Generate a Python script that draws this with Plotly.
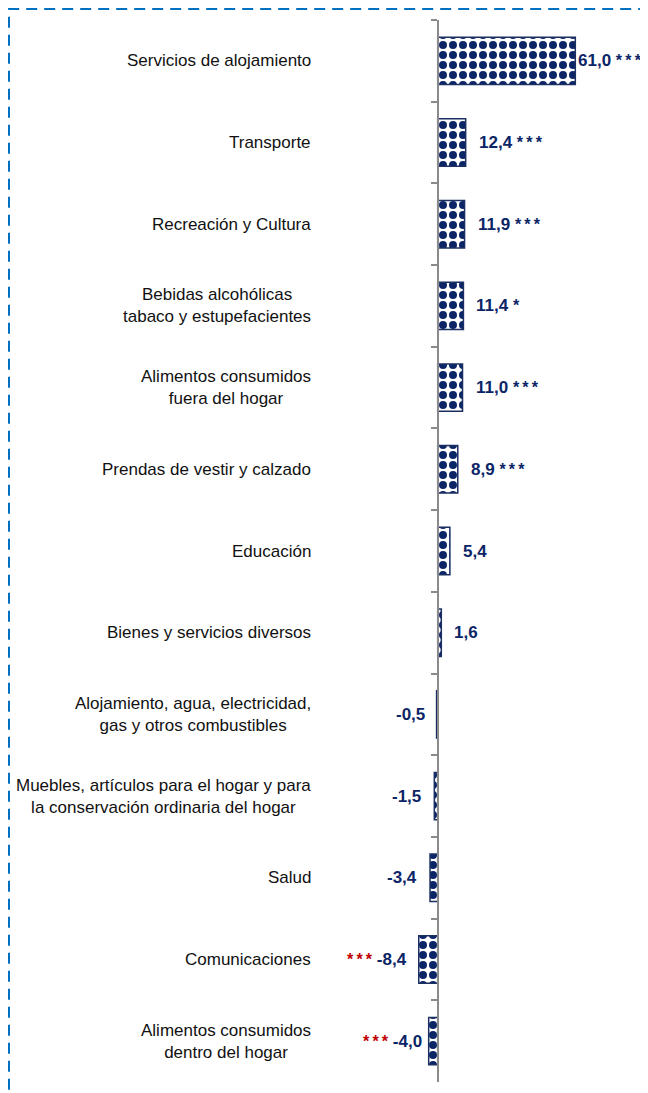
import plotly.graph_objects as go

# data
categories = [
    "Servicios de alojamiento",
    "Transporte",
    "Recreación y Cultura",
    "Bebidas alcohólicas<br>tabaco y estupefacientes",
    "Alimentos consumidos<br>fuera del hogar",
    "Prendas de vestir y calzado",
    "Educación",
    "Bienes y servicios diversos",
    "Alojamiento, agua, electricidad,<br>gas y otros combustibles",
    "Muebles, artículos para el hogar y para<br>la conservación ordinaria del hogar",
    "Salud",
    "Comunicaciones",
    "Alimentos consumidos<br>dentro del hogar",
]
values = [61.0, 12.4, 11.9, 11.4, 11.0, 8.9, 5.4, 1.6, -0.5, -1.5, -3.4, -8.4, -4.0]
significance = ["***", "***", "***", "*", "***", "***", "", "", "", "", "", "***", "***"]

# pixel gap between bar end and its label
label_gap = [1, 11, 11, 11, 11, 11, 11, 11, 10, 11, 11, 10, 5]

NAVY = '#0b2566'
RED = '#c00000'
FONT = "Liberation Sans, Arial, sans-serif"

# the page body adds an 8px margin on each side, so only 632px of the figure are visible
W, H = 632, 1085
zero_px = 429.7
px_per_unit = 2.256
x_range = [-zero_px / px_per_unit, (W - zero_px) / px_per_unit]
top, bottom = 12, 11
plot_h = H - top - bottom

fig = go.Figure()

fig.add_trace(go.Bar(
    x=values,
    y=categories,
    orientation='h',
    width=0.58,
    marker=dict(
        color=NAVY,
        line=dict(color='#1b2f63', width=1.5),
        pattern=dict(shape='.', fgcolor=NAVY, bgcolor='white', size=10, solidity=0.5, fillmode='replace'),
    ),
    hoverinfo='skip',
))

# category labels, centered lines, right edge next to the chart
for cat in categories:
    fig.add_annotation(
        x=305 / W, xref='paper', y=cat, yref='y',
        text=cat, showarrow=False, xanchor='right', align='center',
        font=dict(family=FONT, size=17, color='#111111'),
    )

# value labels with significance stars
for cat, val, sig, gap in zip(categories, values, significance, label_gap):
    num = f"<b>{val:.1f}</b>".replace('.', ',')
    stars = '\u2009'.join(sig)
    if val >= 0:
        text = num
        if sig:
            text += "\u00a0" + f"<span style='font-size:16px'><b>{stars}</b></span>"
        xanchor, shift = 'left', gap
    else:
        text = num
        if sig:
            text = f"<span style='font-size:16px;color:{RED}'><b>{stars}</b></span>" + "\u00a0" + text
        xanchor, shift = 'right', -gap
    fig.add_annotation(
        x=val, xref='x', y=cat, yref='y',
        text=text, showarrow=False, xanchor=xanchor, xshift=shift,
        font=dict(family=FONT, size=17, color=NAVY),
    )

# dashed frame (only top and left edges are visible in the crop)
fig.add_shape(
    type='rect', xref='paper', yref='paper',
    x0=1 / W, x1=1.2, y0=-0.2, y1=(plot_h + top - 1) / plot_h,
    line=dict(color='#0070c0', width=2, dash='11px,7px'),
    fillcolor='rgba(0,0,0,0)', layer='above',
)

fig.update_xaxes(range=x_range, visible=False, fixedrange=True)
fig.update_yaxes(
    type='category', autorange='reversed',
    anchor='free', position=zero_px / W,
    showline=True, linecolor='#8a8a8a', linewidth=1.5,
    ticks='outside', tickson='boundaries', ticklen=6, tickcolor='#8a8a8a', tickwidth=1.5,
    showticklabels=False, showgrid=False, zeroline=False,
)

fig.update_layout(
    width=W, height=H,
    margin=dict(l=0, r=0, t=top, b=bottom),
    plot_bgcolor='white', paper_bgcolor='white',
    showlegend=False,
)

fig.write_html("out.html")
